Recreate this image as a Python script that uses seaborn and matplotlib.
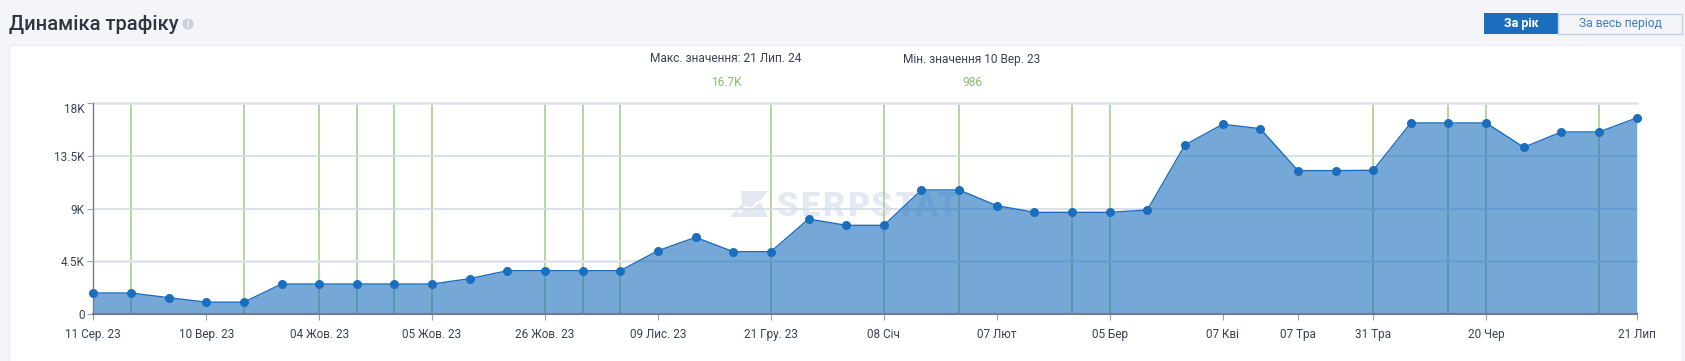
import numpy as np
import pandas as pd
import matplotlib
matplotlib.use("Agg")
import matplotlib.pyplot as plt
from matplotlib.patches import Rectangle, Circle, Polygon
import seaborn as sns

# Traffic values
traffic = [1769, 1769, 1370, 986, 986, 2540, 2540, 2540, 2540, 2540,
           2996, 3680, 3680, 3680, 3680, 5392, 6533, 5306, 5306, 8102,
           7560, 7560, 10585, 10585, 9244, 8673, 8673, 8673, 8873, 14436,
           16205, 15834, 12240, 12240, 12268, 16320, 16320, 16320, 14236, 15549,
           15549, 16747]
tick_points = [0, 3, 6, 9, 12, 15, 18, 21, 24, 27, 30, 32, 34, 37, 41]
tick_labels = ["11 Сер. 23", "10 Вер. 23", "04 Жов. 23", "05 Жов. 23", "26 Жов. 23",
               "09 Лис. 23", "21 Гру. 23", "08 Січ", "07 Лют", "05 Бер",
               "07 Кві", "07 Тра", "31 Тра", "20 Чер", "21 Лип"]
green_points = [1, 4, 6, 7, 8, 9, 12, 13, 14, 18, 21, 23, 26, 27, 34, 36, 37, 40]
y_ticks = [0, 4500, 9000, 13500, 18000]
y_labels = ["0", "4.5K", "9K", "13.5K", "18K"]

W, H = 1685, 361
BLUE = "#1b6ebd"
TEXT = "#3a4150"

sns.set_theme(style="white")
plt.rcParams["font.family"] = ["Roboto", "DejaVu Sans"]

fig = plt.figure(figsize=(W / 100, H / 100), dpi=100, facecolor="#f3f5f9")

# page furniture, in pixel coordinates
bg = fig.add_axes([0, 0, 1, 1], zorder=0)
bg.set_xlim(0, W)
bg.set_ylim(H, 0)
bg.axis("off")
bg.add_patch(Rectangle((9, 45), 1673, 330, fc="white", ec="#e9edf5", lw=1))
bg.text(9, 24, "Динаміка трафіку", fontsize=14.5, fontweight=500, color="#2e3440", va="center")
bg.add_patch(Circle((188, 24), 5.6, fc="#c5d0e3", ec="none"))
bg.text(188, 24, "i", fontsize=7, fontweight="bold", color="white", ha="center", va="center")

bg.add_patch(Rectangle((1484, 13), 74, 21, fc=BLUE, ec="none"))
bg.add_patch(Rectangle((1558, 13.5), 124, 20.5, fc="#f3f5f9", ec="#c5d0e3", lw=1))
bg.text(1521, 23.5, "За рік", fontsize=9, fontweight="bold", color="white", ha="center", va="center")
bg.text(1620, 23.5, "За весь період", fontsize=8.7, color="#3f7fc1", ha="center", va="center")

bg.text(726, 59, "Макс. значення: 21 Лип. 24", fontsize=8.6, color=TEXT, ha="center", va="center")
bg.text(726, 83, "16.7K", fontsize=8.6, color="#8db673", ha="center", va="center")
bg.text(972, 59, "Мін. значення 10 Вер. 23", fontsize=8.6, color=TEXT, ha="center", va="center")
bg.text(972, 83, "986", fontsize=8.6, color="#8db673", ha="center", va="center")

# watermark
WM = "#e3e8f2"
bg.add_patch(Polygon([(741, 191), (768, 191), (760, 201), (768, 217), (730, 217), (742, 204)], fc=WM, ec="none"))
bg.plot([739, 746, 751, 757, 766], [212, 207, 209, 203, 199], color="white", lw=1.6)
for letter, x in zip("SERPSTAT", [777, 800, 822.5, 847.5, 870.7, 894, 913.6, 936.8]):
    bg.text(x, 204, letter, fontsize=24.5, fontweight=900, color=WM, va="center_baseline")

# chart area
left, right, top, bottom = 93.3, 1636.7, 103.3, 313.7
ax = fig.add_axes([left / W, 1 - bottom / H, (right - left) / W, (bottom - top) / H], zorder=1)
ax.patch.set_alpha(0)

df = pd.DataFrame({"point": np.arange(len(traffic)), "traffic": traffic})

ax.vlines(green_points, 0, 18000, color="#a5d08c", lw=1.2, zorder=1)
for tick in y_ticks[1:]:
    ax.axhline(tick, color="#d3dbe8" if tick not in (4500, 18000) else "#dde3ed",
               lw=1.2 if tick not in (4500, 18000) else 1.8, zorder=1, clip_on=False)
ax.fill_between(df["point"], df["traffic"], 0, color=BLUE, alpha=0.6, lw=0, zorder=2)
sns.lineplot(data=df, x="point", y="traffic", ax=ax, color=BLUE, lw=1.0, marker="o",
             markersize=6.5, markeredgewidth=0, zorder=4, clip_on=False)

ax.set_xlim(0, len(traffic) - 1)
ax.set_ylim(0, 18000)
ax.set_xlabel("")
ax.set_ylabel("")
ax.set_xticks(tick_points)
ax.set_xticklabels(tick_labels)
ax.set_yticks(y_ticks)
ax.set_yticklabels(y_labels)
ax.tick_params(axis="both", length=4.3, width=0.8, color="#9a9fa8", labelsize=8.5,
               labelcolor=TEXT, left=True, bottom=True, pad=2)
ax.tick_params(axis="x", pad=6)
ax.get_yticklabels()[-1].set_va("top")

for side in ("top", "right"):
    ax.spines[side].set_visible(False)
ax.spines["left"].set_color("#777c87")
ax.spines["left"].set_linewidth(1.0)
ax.spines["bottom"].set_color("#6f7b90")
ax.spines["bottom"].set_linewidth(1.5)
ax.spines["bottom"].set_zorder(5)

fig.savefig("out.png", dpi=100, facecolor=fig.get_facecolor())
